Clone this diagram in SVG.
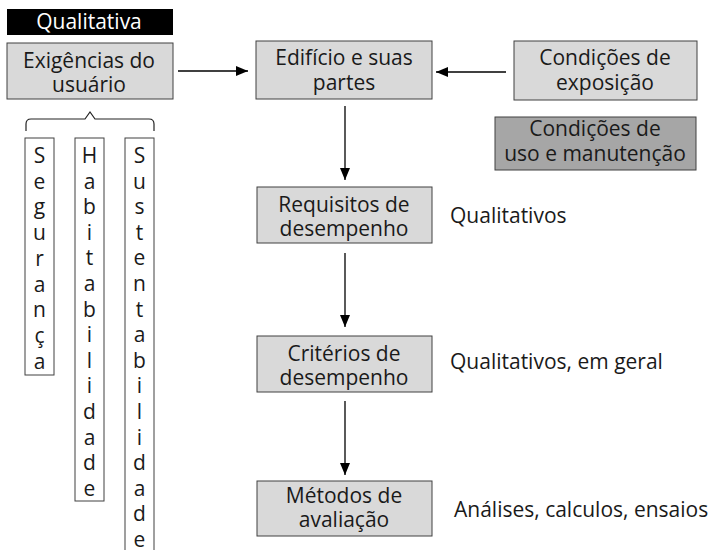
<svg xmlns="http://www.w3.org/2000/svg" width="714" height="550" viewBox="0 0 714 550">
<style>
text{font-family:"Open Sans","Noto Sans",sans-serif;font-size:21px;fill:#1a1a1a}
.c{text-anchor:middle}
.box{fill:#d9d9d9;stroke:#404040;stroke-width:1}
.dark{fill:#a6a6a6;stroke:#404040;stroke-width:1}
.vbox{fill:#fff;stroke:#404040;stroke-width:1}
.conn{stroke:#000;stroke-width:1.3;fill:none;marker-end:url(#ah)}
</style>
<defs>
<marker id="ah" viewBox="0 0 12 10" refX="12" refY="5" markerWidth="12" markerHeight="10" markerUnits="userSpaceOnUse" orient="auto">
<path d="M0,0 L12,5 L0,10 z" fill="#000"/>
</marker>
</defs>
<g id="qualitativa">
<rect x="7" y="9" width="166" height="26" fill="#000"/>
<text class="c" x="89" y="29" style="fill:#fff">Qualitativa</text>
</g>
<g id="exigencias">
<rect class="box" x="7" y="43" width="166" height="56"/>
<text class="c" x="89" y="68">Exigências do</text>
<text class="c" x="89" y="92">usuário</text>
</g>
<g id="edificio">
<rect class="box" x="256" y="41" width="176" height="58"/>
<text class="c" x="344" y="65">Edifício e suas</text>
<text class="c" x="344" y="90">partes</text>
</g>
<g id="exposicao">
<rect class="box" x="514" y="41" width="183" height="59"/>
<text class="c" x="605" y="65">Condições de</text>
<text class="c" x="605" y="90">exposição</text>
</g>
<g id="uso">
<rect class="dark" x="495" y="117" width="201" height="53"/>
<text class="c" x="595" y="136">Condições de</text>
<text class="c" x="595" y="161">uso e manutenção</text>
</g>
<g id="requisitos">
<rect class="box" x="257" y="187" width="175" height="56"/>
<text class="c" x="344" y="212">Requisitos de</text>
<text class="c" x="344" y="236">desempenho</text>
</g>
<g id="criterios">
<rect class="box" x="257" y="336" width="175" height="56"/>
<text class="c" x="344" y="361">Critérios de</text>
<text class="c" x="344" y="385">desempenho</text>
</g>
<g id="metodos">
<rect class="box" x="257" y="481" width="175" height="55"/>
<text class="c" x="344" y="503">Métodos de</text>
<text class="c" x="344" y="527">avaliação</text>
</g>
<g id="labels">
<text x="450" y="223">Qualitativos</text>
<text x="450" y="369">Qualitativos, em geral</text>
<text x="454" y="517">Análises, calculos, ensaios</text>
</g>
<g id="brace">
<path d="M26,131 L26,124 Q26,119 31,119 L85,119 L90,112 L95,119 L149,119 Q154,119 154,124 L154,131" fill="none" stroke="#222" stroke-width="1.2"/>
</g>
<g id="seguranca">
<rect class="vbox" x="25" y="138" width="29" height="237"/>
<text class="c" x="39.5" y="163">S<tspan x="39.5" dy="25.7">e</tspan><tspan x="39.5" dy="25.7">g</tspan><tspan x="39.5" dy="25.7">u</tspan><tspan x="39.5" dy="25.7">r</tspan><tspan x="39.5" dy="25.7">a</tspan><tspan x="39.5" dy="25.7">n</tspan><tspan x="39.5" dy="25.7">ç</tspan><tspan x="39.5" dy="25.7">a</tspan></text>
</g>
<g id="habitabilidade">
<rect class="vbox" x="75" y="138" width="29" height="363"/>
<text class="c" x="89.5" y="163">H<tspan x="89.5" dy="25.6">a</tspan><tspan x="89.5" dy="25.6">b</tspan><tspan x="89.5" dy="25.6">i</tspan><tspan x="89.5" dy="25.6">t</tspan><tspan x="89.5" dy="25.6">a</tspan><tspan x="89.5" dy="25.6">b</tspan><tspan x="89.5" dy="25.6">i</tspan><tspan x="89.5" dy="25.6">l</tspan><tspan x="89.5" dy="25.6">i</tspan><tspan x="89.5" dy="25.6">d</tspan><tspan x="89.5" dy="25.6">a</tspan><tspan x="89.5" dy="25.6">d</tspan><tspan x="89.5" dy="25.6">e</tspan></text>
</g>
<g id="sustentabilidade">
<rect class="vbox" x="125" y="138" width="29" height="420"/>
<text class="c" x="139.5" y="163">S<tspan x="139.5" dy="25.6">u</tspan><tspan x="139.5" dy="25.6">s</tspan><tspan x="139.5" dy="25.6">t</tspan><tspan x="139.5" dy="25.6">e</tspan><tspan x="139.5" dy="25.6">n</tspan><tspan x="139.5" dy="25.6">t</tspan><tspan x="139.5" dy="25.6">a</tspan><tspan x="139.5" dy="25.6">b</tspan><tspan x="139.5" dy="25.6">i</tspan><tspan x="139.5" dy="25.6">l</tspan><tspan x="139.5" dy="25.6">i</tspan><tspan x="139.5" dy="25.6">d</tspan><tspan x="139.5" dy="25.6">a</tspan><tspan x="139.5" dy="25.6">d</tspan><tspan x="139.5" dy="25.6">e</tspan></text>
</g>
<g id="connectors">
<line class="conn" x1="178" y1="71" x2="248" y2="71"/>
<line class="conn" x1="506" y1="72" x2="436" y2="72"/>
<line class="conn" x1="345" y1="106" x2="345" y2="180"/>
<line class="conn" x1="345" y1="253" x2="345" y2="327"/>
<line class="conn" x1="345" y1="401" x2="345" y2="475"/>
</g>
</svg>
